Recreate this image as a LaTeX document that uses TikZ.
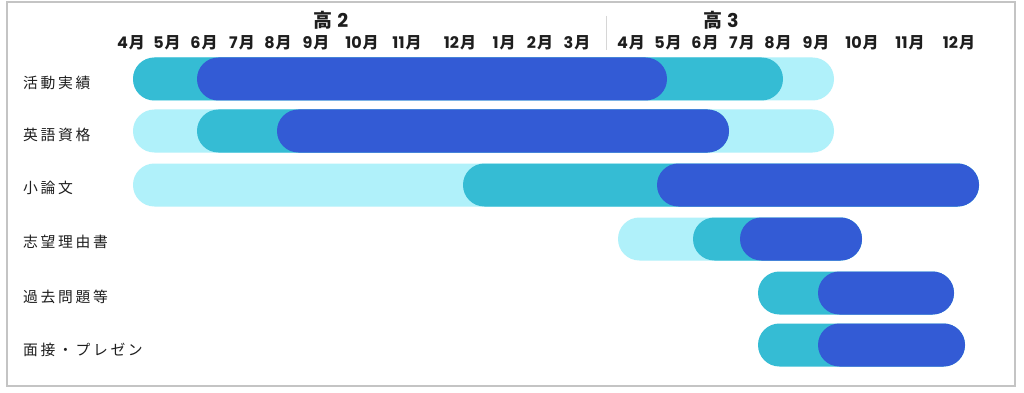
\documentclass[tikz,border=0pt]{standalone}
\usepackage{fontspec}
\newfontfamily\jp{Noto Sans CJK JP}
\newfontfamily\jpl{Noto Sans CJK JP}[LetterSpace=18]
\newfontfamily\pop{Poppins}
\definecolor{lightc}{HTML}{B0F1FA}
\definecolor{tealc}{HTML}{35BCD4}
\definecolor{darkc}{HTML}{335BD5}
\definecolor{framec}{HTML}{C4C4C4}
\definecolor{textc}{HTML}{1E1E1E}
\newcommand\mnum[1]{{\pop\bfseries #1}\kern1pt{\jp\bfseries 月}}
\newcommand\ganttbar[4]{\fill[#4, rounded corners=21.4pt] (#2,#1-21.5) rectangle (#3,#1+21.5);}
\tikzset{
  mon/.style={inner sep=0pt, anchor=center, text=textc, font=\fontsize{16}{18}\selectfont},
  grade/.style={inner sep=0pt, anchor=center, text=textc, font=\fontsize{19}{21}\selectfont},
  rowlabel/.style={inner sep=0pt, anchor=west, text=textc, font=\fontsize{14.8}{16}\selectfont\jpl},
}
\begin{document}
\begin{tikzpicture}[x=1pt,y=-1pt]
\useasboundingbox (0,0) rectangle (1024,393);
\fill[white] (0,0) rectangle (1024,393);
\draw[framec, line width=1.3pt] (7,2) rectangle (1015,386);
\draw[framec!70, line width=0.8pt] (606,16) -- (606,50);
% headers
\node[grade] (g2) at (331,20) {{\jp\bfseries 高}\kern4.5pt{\pop\bfseries 2}};
\node[grade] (g3) at (721,20) {{\jp\bfseries 高}\kern4.5pt{\pop\bfseries 3}};
% months
\foreach \x/\m [count=\i] in {131/4,167/5,204/6,242/7,278/8,316/9,362/10,407/11,460/12,504/1,540/2,577/3,631/4,668/5,705/6,742/7,778/8,816/9,862/10,910/11,959/12}
  \node[mon] (m\i) at (\x,42.5) {\mnum{\m}};
% row labels
\node[rowlabel] (r1) at (23,83) {活動実績};
\node[rowlabel] (r2) at (23,135) {英語資格};
\node[rowlabel] (r3) at (23,188) {小論文};
\node[rowlabel] (r4) at (23,242) {志望理由書};
\node[rowlabel] (r5) at (23,297) {過去問題等};
\node[rowlabel] (r6) at (23,350) {面接・プレゼン};
% bars
\ganttbar{79}{133}{834}{lightc}
\ganttbar{79}{133}{783}{tealc}
\ganttbar{79}{197}{667}{darkc}
\ganttbar{131}{133}{834}{lightc}
\ganttbar{131}{197}{729}{tealc}
\ganttbar{131}{277}{729}{darkc}
\ganttbar{185}{133}{979}{lightc}
\ganttbar{185}{463}{979}{tealc}
\ganttbar{185}{657}{979}{darkc}
\ganttbar{239}{618}{862}{lightc}
\ganttbar{239}{693}{862}{tealc}
\ganttbar{239}{740}{862}{darkc}
\ganttbar{293}{758}{954}{tealc}
\ganttbar{293}{818}{954}{darkc}
\ganttbar{345}{758}{965}{tealc}
\ganttbar{345}{818}{965}{darkc}
\end{tikzpicture}
\end{document}
